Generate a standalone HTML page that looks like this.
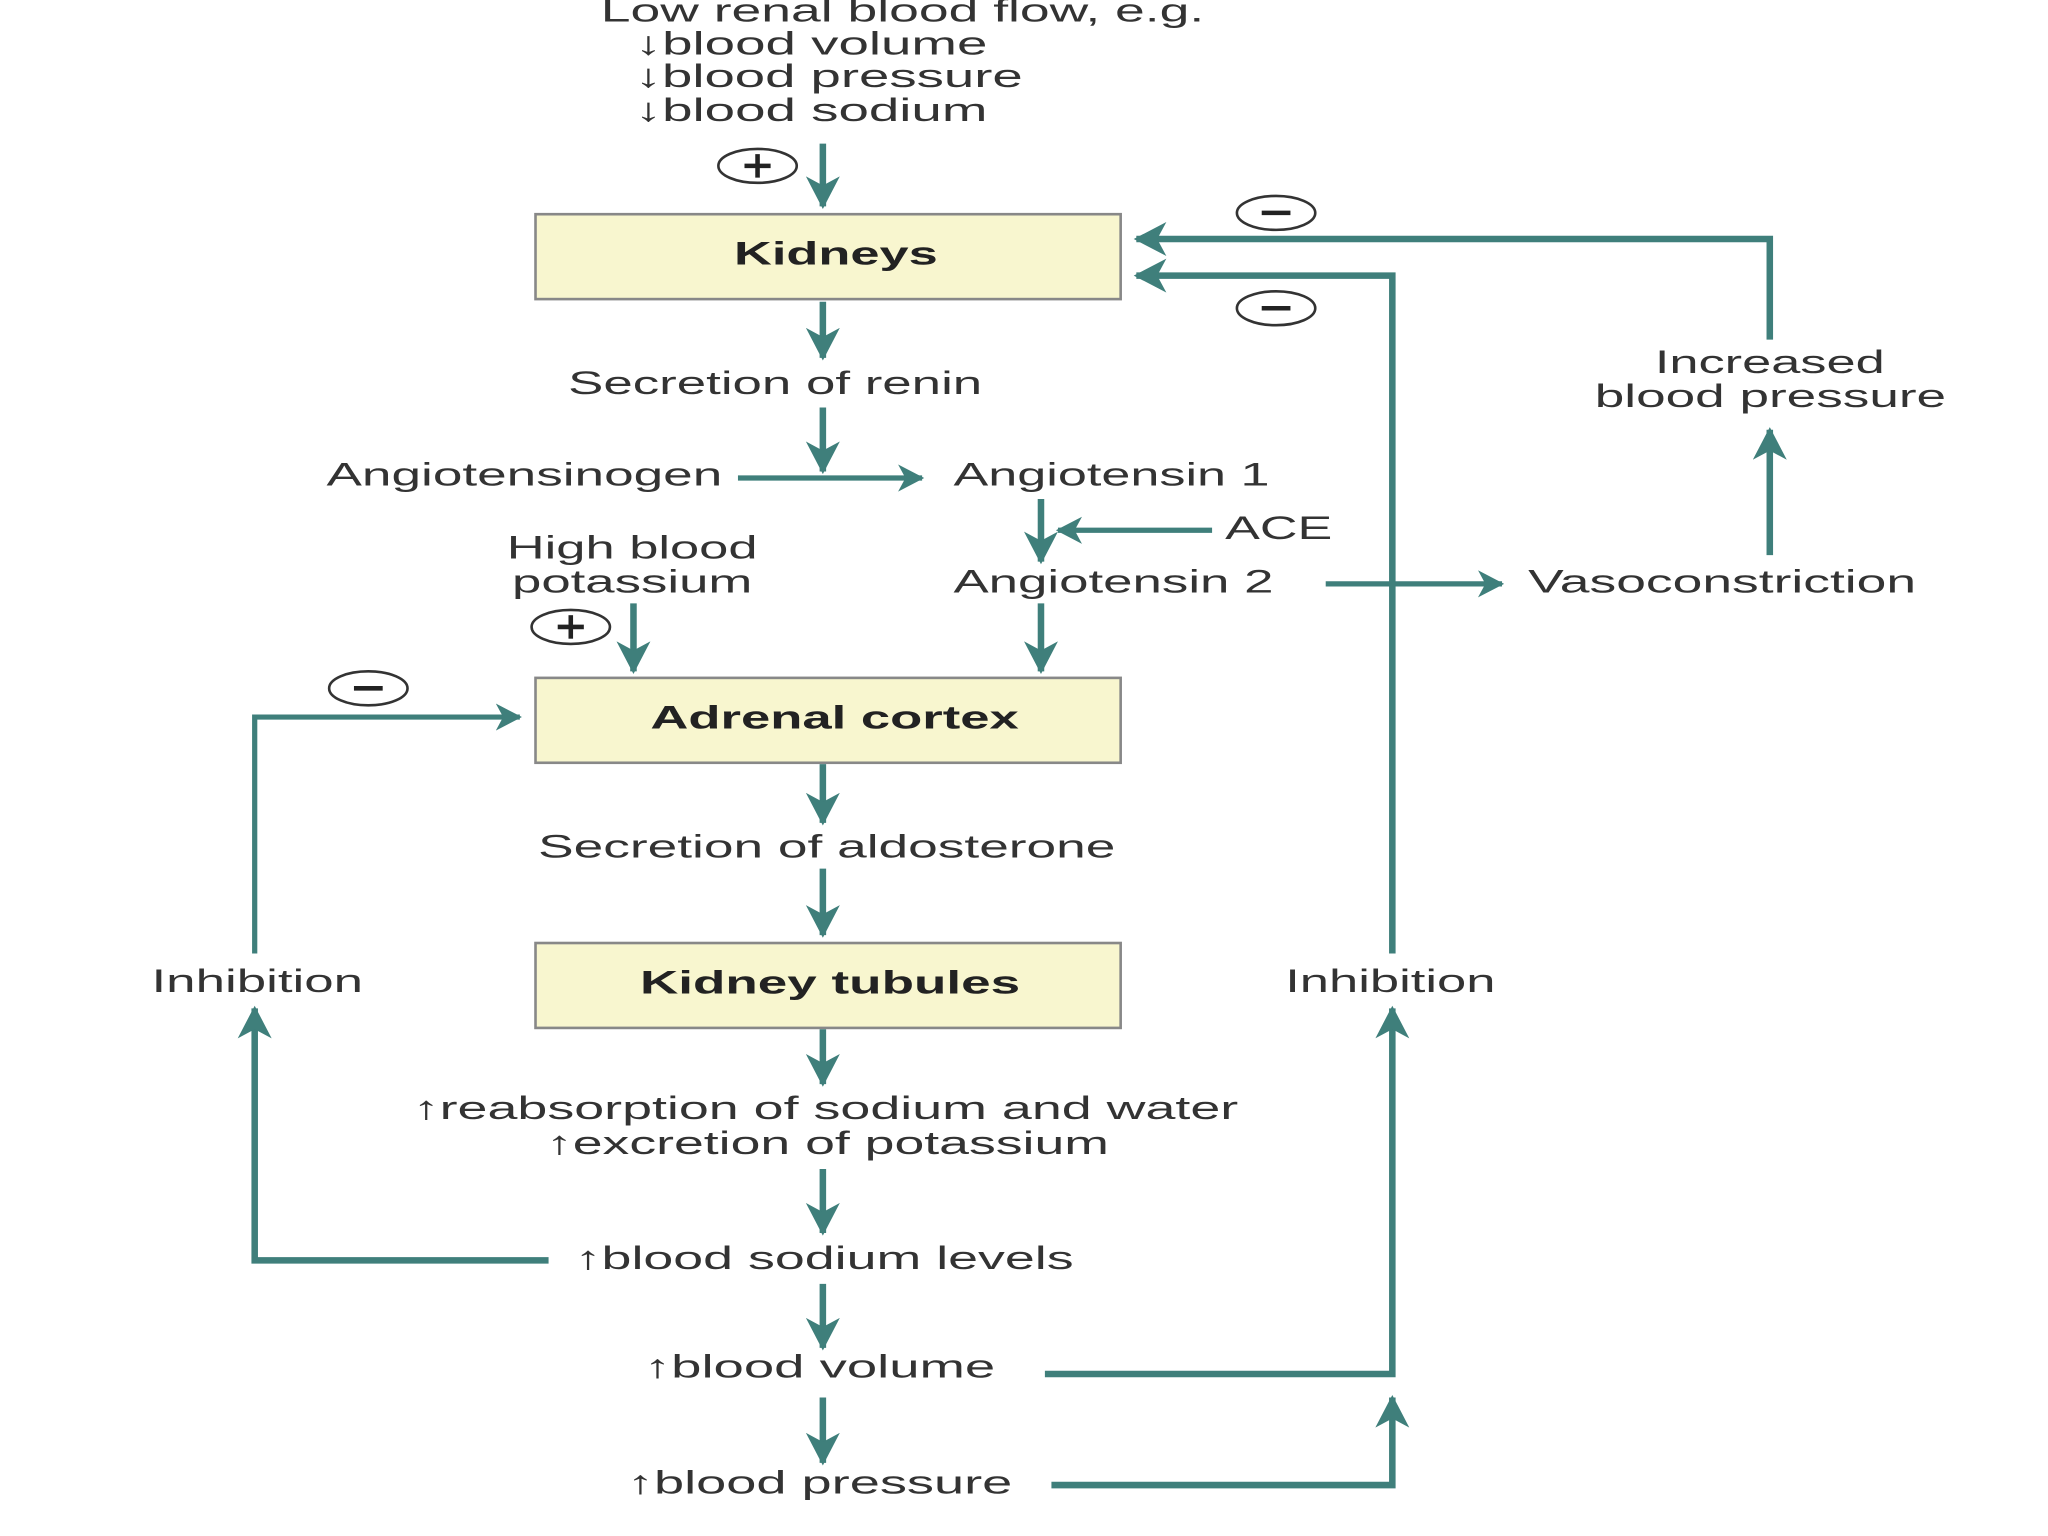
<!DOCTYPE html>
<html><head><style>
html,body{margin:0;padding:0;background:#fff;}
svg{display:block;}
text{font-family:"Liberation Sans",sans-serif;font-size:25px;fill:#333;dominant-baseline:middle;}
.b{font-weight:bold;fill:#222;}
.l{stroke:#3f7f7b;stroke-width:5;fill:none;}
</style></head><body>
<svg width="2048" height="1536" viewBox="0 0 1568 1176" xmlns="http://www.w3.org/2000/svg">
<defs>
<marker id="a" markerWidth="6" markerHeight="6" refX="4.6" refY="2.6" orient="auto" markerUnits="strokeWidth">
<path d="M0,0 L5,2.6 L0,5.2 L1.4,2.6 Z" fill="#3f7f7b"/>
</marker>
</defs>
<g lengthAdjust="spacingAndGlyphs">
<text x="460" y="10" textLength="462" lengthAdjust="spacingAndGlyphs">Low renal blood flow, e.g.</text>
<text x="486" y="35" textLength="270" lengthAdjust="spacingAndGlyphs">↓blood volume</text>
<text x="486" y="60" textLength="297" lengthAdjust="spacingAndGlyphs">↓blood pressure</text>
<text x="486" y="86" textLength="270" lengthAdjust="spacingAndGlyphs">↓blood sodium</text>
</g>

<g fill="none" stroke="#333" stroke-width="2">
<ellipse cx="580" cy="127" rx="30" ry="13"/>
<ellipse cx="977" cy="163" rx="30" ry="13"/>
<ellipse cx="977" cy="236" rx="30" ry="13"/>
<ellipse cx="437" cy="480" rx="30" ry="13"/>
<ellipse cx="282" cy="527" rx="30" ry="13"/>
</g>
<g stroke="#222" stroke-width="3.5">
<line x1="570" y1="127" x2="590" y2="127"/><line x1="580" y1="118" x2="580" y2="136"/>
<line x1="427" y1="480" x2="447" y2="480"/><line x1="437" y1="471" x2="437" y2="489"/>
<line x1="966" y1="163" x2="988" y2="163"/>
<line x1="966" y1="236" x2="988" y2="236"/>
<line x1="271" y1="527" x2="293" y2="527"/>
</g>

<g fill="#f8f6cf" stroke="#888" stroke-width="2">
<rect x="410" y="164" width="448" height="65"/>
<rect x="410" y="519" width="448" height="65"/>
<rect x="410" y="722" width="448" height="65"/>
</g>
<text class="b" x="562" y="196" textLength="156" lengthAdjust="spacingAndGlyphs">Kidneys</text>
<text class="b" x="498" y="551" textLength="282" lengthAdjust="spacingAndGlyphs">Adrenal cortex</text>
<text class="b" x="490" y="754" textLength="291" lengthAdjust="spacingAndGlyphs">Kidney tubules</text>

<g class="l">
<line x1="630" y1="110" x2="630" y2="158" marker-end="url(#a)"/>
<line x1="630" y1="231" x2="630" y2="274" marker-end="url(#a)"/>
<line x1="630" y1="312" x2="630" y2="361" marker-end="url(#a)"/>
<line x1="565" y1="366" x2="706" y2="366" marker-end="url(#a)" stroke-width="4"/>
<line x1="797" y1="382" x2="797" y2="430" marker-end="url(#a)"/>
<line x1="928" y1="406" x2="810" y2="406" marker-end="url(#a)" stroke-width="4"/>
<line x1="1015" y1="447" x2="1150" y2="447" marker-end="url(#a)" stroke-width="4"/>
<polyline points="1066,730 1066,211 870,211" marker-end="url(#a)"/>
<polyline points="1355,260 1355,183 870,183" marker-end="url(#a)"/>
<line x1="1355" y1="425" x2="1355" y2="329" marker-end="url(#a)"/>
<line x1="485" y1="462" x2="485" y2="514" marker-end="url(#a)"/>
<line x1="797" y1="462" x2="797" y2="514" marker-end="url(#a)"/>
<polyline points="195,730 195,549 398,549" marker-end="url(#a)" stroke-width="4"/>
<line x1="630" y1="585" x2="630" y2="630" marker-end="url(#a)"/>
<line x1="630" y1="665" x2="630" y2="716" marker-end="url(#a)"/>
<line x1="630" y1="788" x2="630" y2="830" marker-end="url(#a)"/>
<line x1="630" y1="895" x2="630" y2="944" marker-end="url(#a)"/>
<polyline points="420,965 195,965 195,772" marker-end="url(#a)"/>
<line x1="630" y1="983" x2="630" y2="1032" marker-end="url(#a)"/>
<polyline points="800,1052 1066,1052 1066,772" marker-end="url(#a)"/>
<line x1="630" y1="1070" x2="630" y2="1120" marker-end="url(#a)"/>
<polyline points="805,1137 1066,1137 1066,1070" marker-end="url(#a)"/>
</g>

<text x="435" y="295" textLength="317" lengthAdjust="spacingAndGlyphs">Secretion of renin</text>
<text x="250" y="365" textLength="303" lengthAdjust="spacingAndGlyphs">Angiotensinogen</text>
<text x="730" y="365" textLength="242" lengthAdjust="spacingAndGlyphs">Angiotensin 1</text>
<text x="938" y="406" textLength="82" lengthAdjust="spacingAndGlyphs">ACE</text>
<text x="730" y="447" textLength="245" lengthAdjust="spacingAndGlyphs">Angiotensin 2</text>
<text x="1170" y="447" textLength="297" lengthAdjust="spacingAndGlyphs">Vasoconstriction</text>
<text x="1267" y="279" textLength="176" lengthAdjust="spacingAndGlyphs">Increased</text>
<text x="1221" y="305" textLength="269" lengthAdjust="spacingAndGlyphs">blood pressure</text>
<text x="388" y="421" textLength="192" lengthAdjust="spacingAndGlyphs">High blood</text>
<text x="392" y="447" textLength="184" lengthAdjust="spacingAndGlyphs">potassium</text>
<text x="412" y="650" textLength="442" lengthAdjust="spacingAndGlyphs">Secretion of aldosterone</text>
<text x="116" y="753" textLength="162" lengthAdjust="spacingAndGlyphs">Inhibition</text>
<text x="984" y="753" textLength="161" lengthAdjust="spacingAndGlyphs">Inhibition</text>
<text x="316" y="850" textLength="632" lengthAdjust="spacingAndGlyphs">↑reabsorption of sodium and water</text>
<text x="418" y="877" textLength="431" lengthAdjust="spacingAndGlyphs">↑excretion of potassium</text>
<text x="440" y="965" textLength="382" lengthAdjust="spacingAndGlyphs">↑blood sodium levels</text>
<text x="493" y="1048" textLength="269" lengthAdjust="spacingAndGlyphs">↑blood volume</text>
<text x="480" y="1137" textLength="295" lengthAdjust="spacingAndGlyphs">↑blood pressure</text>
</svg>
</body></html>
